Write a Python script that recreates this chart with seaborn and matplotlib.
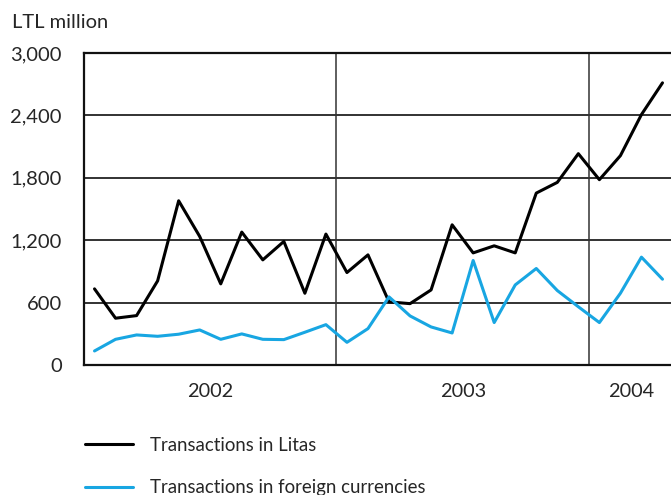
import matplotlib
matplotlib.use("Agg")
import matplotlib.pyplot as plt
import pandas as pd
import seaborn as sns

# Monthly data, Jan 2002 - Apr 2004 (LTL million)
months = list(range(28))
litas = [732, 450, 475, 809, 1579, 1236, 780, 1278, 1011, 1188, 690, 1259,
         889, 1059, 607, 590, 722, 1348, 1078, 1146, 1078, 1653, 1756, 2032,
         1782, 2013, 2408, 2713]
foreign = [135, 247, 289, 276, 296, 337, 247, 299, 247, 244, 315, 388,
           218, 350, 655, 472, 366, 308, 1005, 408, 770, 928, 716, 560,
           408, 690, 1037, 825]
series_names = ["Transactions in Litas", "Transactions in foreign currencies"]
years = ["2002", "2003", "2004"]
y_ticks = [0, 600, 1200, 1800, 2400, 3000]

sns.set_theme(style="white")
plt.rcParams['font.family'] = ['Lato', 'DejaVu Sans']

df = pd.DataFrame({
    "month": [m + 0.5 for m in months] * 2,
    "value": litas + foreign,
    "series": [series_names[0]] * len(months) + [series_names[1]] * len(months),
})

fig = plt.figure(figsize=(6.71, 4.95), dpi=100)
ax = fig.add_axes([84 / 671, 1 - 365 / 495, 589 / 671, 312 / 495])

sns.lineplot(data=df, x="month", y="value", hue="series",
             palette=["#000000", "#18a6e2"], linewidth=2.2, ax=ax, legend=False)

ax.set_xlim(0, 28)
ax.set_ylim(0, 3000)
ax.set_yticks(y_ticks)
ax.set_yticklabels([f"{v:,}" for v in y_ticks], fontsize=14.5)
for v in y_ticks[1:-1]:
    ax.axhline(v, color="#222222", linewidth=1.3, zorder=0)
for v in [12, 24]:
    ax.axvline(v, color="#333333", linewidth=1.1, zorder=0)

ax.set_xticks([0, 12, 24])
ax.set_xticklabels([])
ax.set_xticks([6, 18, 26], minor=True)
ax.set_xticklabels(years, minor=True, fontsize=14.3)
ax.tick_params(axis="x", which="major", direction="out", length=8, width=1, color="#222222")
ax.tick_params(axis="x", which="minor", length=0, pad=13)
ax.tick_params(axis="y", direction="out", length=7, width=1.2, color="#222222", pad=9)

for side in ["left", "bottom", "top"]:
    ax.spines[side].set_color("#111111")
    ax.spines[side].set_linewidth(1.6)
ax.spines["right"].set_visible(False)
ax.set_xlabel("")
ax.set_ylabel("")

fig.text(12 / 671, 1 - 22 / 495, "LTL million", fontsize=14.5, va="center", ha="left")

handles = [plt.Line2D([], [], color="#000000", linewidth=2.2),
           plt.Line2D([], [], color="#18a6e2", linewidth=2.2)]
fig.legend(handles, series_names, loc="upper left",
           bbox_to_anchor=(85 / 671, 1 - 437 / 495), frameon=False,
           fontsize=13.4, handlelength=2.6, handletextpad=0.9,
           labelspacing=1.35, borderpad=0, borderaxespad=0)

fig.savefig("out.png", dpi=100)
